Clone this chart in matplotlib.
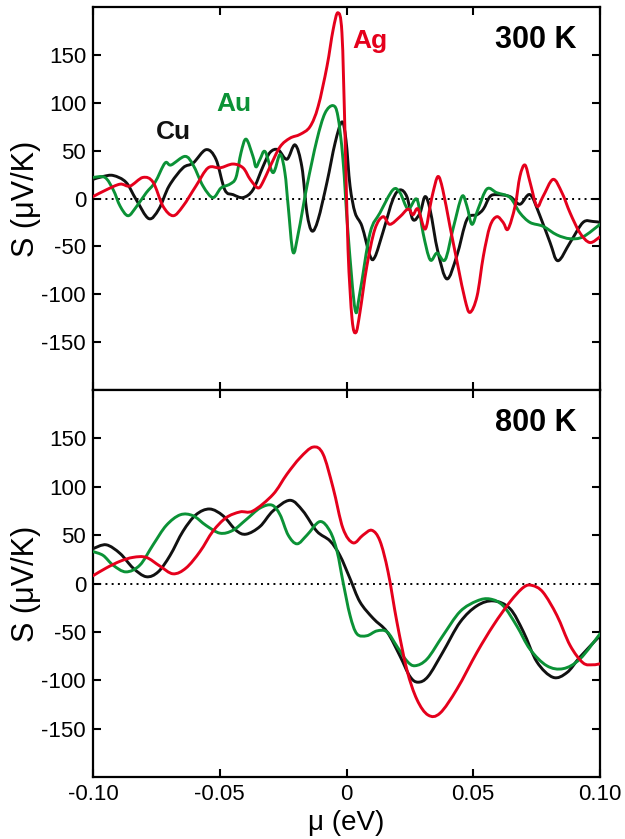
import matplotlib
matplotlib.use("Agg")
import matplotlib.pyplot as plt
from matplotlib.ticker import FixedLocator
from matplotlib.path import Path
from matplotlib.patches import PathPatch

plt.rcParams['font.family'] = ['Liberation Sans', 'DejaVu Sans']

# ---------------- data (mu in eV, S in uV/K) ----------------
cu_300 = [(-0.100, 20), (-0.096, 23), (-0.092, 24), (-0.087, 17), (-0.083, -1), (-0.078, -21),
          (-0.074, -11), (-0.070, 13), (-0.0645, 32), (-0.0605, 37), (-0.0554, 51), (-0.0515, 41),
          (-0.048, 9), (-0.0447, 4), (-0.0408, 1), (-0.0369, 9), (-0.0330, 33), (-0.0302, 48),
          (-0.0270, 51), (-0.0235, 41), (-0.0203, 56), (-0.0176, 33), (-0.0156, -15), (-0.0136, -34),
          (-0.0112, -22), (-0.0077, 17), (-0.0045, 58), (-0.0018, 80), (-0.0002, 61), (0.0014, 13),
          (0.0034, -15), (0.0061, -29), (0.0093, -60), (0.0112, -61), (0.0144, -35), (0.0183, -1),
          (0.0211, 9), (0.0238, 2), (0.0262, -22), (0.0290, -15), (0.0310, 2), (0.0330, -12),
          (0.0360, -55), (0.0396, -84), (0.0435, -60), (0.0475, -22), (0.0515, -17), (0.0540, -11),
          (0.0566, 2), (0.0593, 4), (0.0645, 2), (0.0684, -6), (0.0724, 4), (0.0763, -18),
          (0.0803, -46), (0.0834, -65), (0.0882, -46), (0.0933, -25), (0.0972, -24), (0.100, -25)]

au_300 = [(-0.100, 22), (-0.0953, 22), (-0.092, 9), (-0.0893, -8), (-0.0862, -18), (-0.083, -9),
          (-0.079, 6), (-0.0755, 17), (-0.0716, 37), (-0.0692, 35), (-0.0637, 44), (-0.0605, 35),
          (-0.0566, 13), (-0.0527, 1), (-0.0495, 11), (-0.046, 15), (-0.0436, 22), (-0.0416, 48),
          (-0.0396, 62), (-0.0369, 44), (-0.0357, 33), (-0.0341, 41), (-0.0321, 49), (-0.029, 27),
          (-0.0262, 46), (-0.0243, 27), (-0.023, -8), (-0.0211, -56), (-0.019, -36), (-0.0156, 13),
          (-0.0117, 61), (-0.0085, 89), (-0.0053, 97), (-0.0034, 86), (-0.0014, 41), (0.0006, -36),
          (0.0034, -116), (0.0053, -98), (0.0093, -36), (0.0132, -15), (0.0183, 9), (0.0211, 6),
          (0.0243, -11), (0.0278, -1), (0.0302, -36), (0.0330, -64), (0.0357, -57), (0.0389, -64),
          (0.042, -32), (0.0455, 2), (0.0475, -8), (0.0495, -27), (0.0519, -11), (0.0554, 10),
          (0.0593, 6), (0.0645, 1), (0.0684, -15), (0.0724, -25), (0.0775, -29), (0.083, -38),
          (0.0882, -42), (0.0933, -40), (0.100, -27)]

ag_300 = [(-0.100, 2), (-0.0948, 9), (-0.0893, 15), (-0.0854, 13), (-0.0803, 22), (-0.0763, 17),
          (-0.0724, -8), (-0.0684, -18), (-0.0645, -8), (-0.0594, 13), (-0.0546, 32), (-0.0499, 32),
          (-0.0448, 36), (-0.0408, 32), (-0.038, 20), (-0.0349, 11), (-0.0330, 17), (-0.0302, 33),
          (-0.0262, 54), (-0.0223, 63), (-0.0183, 67), (-0.0144, 75), (-0.0112, 96), (-0.0077, 138),
          (-0.0053, 176), (-0.0034, 194), (-0.0018, 173), (-0.0006, 69), (0.0006, -53), (0.0022, -126),
          (0.0037, -140), (0.0053, -119), (0.008, -71), (0.0112, -32), (0.0144, -19), (0.0171, -27),
          (0.0211, -19), (0.0243, -11), (0.0262, -17), (0.0282, -11), (0.031, -32), (0.033, -8),
          (0.0341, 6), (0.0361, 23), (0.038, 9), (0.0408, -29), (0.044, -71), (0.0467, -105),
          (0.0487, -119), (0.0515, -102), (0.054, -60), (0.0566, -29), (0.0593, -19), (0.0618, -25),
          (0.0637, -32), (0.0665, -8), (0.0684, 23), (0.0704, 35), (0.0724, 17), (0.0751, -8),
          (0.0775, 2), (0.0815, 20), (0.085, 6), (0.0882, -15), (0.0921, -36), (0.096, -46),
          (0.100, -40)]

cu_800 = [(-0.100, 36), (-0.0948, 40), (-0.0893, 31), (-0.0842, 16), (-0.079, 7), (-0.0743, 12),
          (-0.0696, 29), (-0.0645, 54), (-0.0594, 71), (-0.054, 77), (-0.0487, 70), (-0.0436, 55),
          (-0.0396, 51), (-0.0341, 59), (-0.029, 75), (-0.0223, 86), (-0.0172, 75), (-0.0117, 54),
          (-0.0065, 44), (-0.0026, 29), (0.0014, 5), (0.0053, -19), (0.0105, -36), (0.016, -50),
          (0.0211, -75), (0.025, -96), (0.0282, -102), (0.0322, -96), (0.038, -71), (0.0448, -40),
          (0.0515, -23), (0.058, -18), (0.0645, -26), (0.0698, -50), (0.0751, -81), (0.0815, -97),
          (0.087, -92), (0.0921, -76), (0.100, -54)]

au_800 = [(-0.100, 33), (-0.096, 29), (-0.0921, 19), (-0.087, 12), (-0.0815, 19), (-0.0763, 40),
          (-0.0711, 60), (-0.0656, 71), (-0.0605, 70), (-0.0554, 60), (-0.0499, 52), (-0.0448, 55),
          (-0.0396, 66), (-0.0341, 78), (-0.0294, 81), (-0.0262, 71), (-0.023, 50), (-0.0195, 41),
          (-0.0156, 50), (-0.0105, 64), (-0.0065, 54), (-0.0037, 33), (-0.0014, 2), (0.0014, -33),
          (0.0041, -52), (0.008, -54), (0.012, -49), (0.016, -50), (0.0199, -65), (0.0238, -80),
          (0.027, -85), (0.0318, -78), (0.038, -54), (0.0448, -29), (0.0515, -18), (0.0566, -16),
          (0.0618, -23), (0.0672, -44), (0.0724, -68), (0.079, -85), (0.0855, -88), (0.0921, -78),
          (0.100, -52)]

ag_800 = [(-0.100, 8), (-0.0948, 16), (-0.0893, 23), (-0.0842, 27), (-0.079, 27), (-0.0736, 18),
          (-0.0684, 10), (-0.0633, 16), (-0.0578, 33), (-0.0527, 54), (-0.0475, 68), (-0.042, 74),
          (-0.0369, 75), (-0.029, 92), (-0.0235, 113), (-0.0183, 130), (-0.0132, 141), (-0.0093, 134),
          (-0.0053, 99), (-0.0014, 57), (0.0026, 42), (0.0065, 50), (0.010, 55), (0.0132, 44),
          (0.0164, 12), (0.0199, -40), (0.0238, -89), (0.0278, -120), (0.0322, -136), (0.0369, -134),
          (0.0436, -109), (0.0515, -71), (0.058, -43), (0.0645, -19), (0.0698, -4), (0.0732, -2),
          (0.0775, -9), (0.083, -33), (0.0882, -64), (0.0933, -82), (0.0972, -84), (0.100, -83)]

x_ticks = [-0.10, -0.05, 0.0, 0.05, 0.10]
x_ticklabels = ["-0.10", "-0.05", "0", "0.05", "0.10"]
y_ticks = [-150, -100, -50, 0, 50, 100, 150]
temps = ["300 K", "800 K"]
metal_labels = ["Cu", "Au", "Ag"]

RED = '#e5001c'
GREEN = '#0b9236'
BLACK = '#111111'


def smooth_line(ax, data, color, lw=2.1):
    """Draw a smooth (Catmull-Rom style Bezier) curve through the data points,
    in data coordinates via ax.transData."""
    xs = [p[0] for p in data]
    ys = [p[1] for p in data]
    n = len(xs)
    verts = [(xs[0], ys[0])]
    codes = [Path.MOVETO]
    for i in range(n - 1):
        x0, y0 = (xs[i - 1], ys[i - 1]) if i > 0 else (xs[i], ys[i])
        x1, y1 = xs[i], ys[i]
        x2, y2 = xs[i + 1], ys[i + 1]
        x3, y3 = (xs[i + 2], ys[i + 2]) if i + 2 < n else (x2, y2)
        c1 = (x1 + (x2 - x0) / 6.0, y1 + (y2 - y0) / 6.0)
        c2 = (x2 - (x3 - x1) / 6.0, y2 - (y3 - y1) / 6.0)
        verts += [c1, c2, (x2, y2)]
        codes += [Path.CURVE4, Path.CURVE4, Path.CURVE4]
    patch = PathPatch(Path(verts, codes), facecolor='none', edgecolor=color, lw=lw,
                      joinstyle='round', capstyle='round', transform=ax.transData, zorder=3)
    ax.add_patch(patch)


fig = plt.figure(figsize=(6.25, 8.39), dpi=100)
L, R = 93 / 625, 600 / 625
top_ax = fig.add_axes([L, 1 - 390 / 839, R - L, (390 - 7) / 839])
bot_ax = fig.add_axes([L, 1 - 777 / 839, R - L, (777 - 390) / 839])

panels = [
    (top_ax, [(cu_300, BLACK), (au_300, GREEN), (ag_300, RED)], temps[0]),
    (bot_ax, [(cu_800, BLACK), (au_800, GREEN), (ag_800, RED)], temps[1]),
]

for ax, series, temp in panels:
    ax.axhline(0, color='black', lw=1.4, ls=(0, (1, 2.2)), zorder=1)
    for data, col in series:
        smooth_line(ax, data, col)
    ax.set_xlim(-0.10, 0.10)
    ax.set_ylim(-200, 200)
    ax.yaxis.set_major_locator(FixedLocator(y_ticks))
    ax.set_yticklabels([str(v) for v in y_ticks])
    ax.xaxis.set_major_locator(FixedLocator(x_ticks))
    ax.tick_params(direction='in', length=6, width=1.5, top=True, right=True,
                   labelsize=16, pad=5)
    for sp in ax.spines.values():
        sp.set_linewidth(1.6)
    ax.set_ylabel('S (μV/K)', fontsize=22, va='center')
    ax.yaxis.set_label_coords(-0.132, 0.5)
    ax.text(0.0909, 166, temp, fontsize=22, fontweight='bold', ha='right', va='center')

top_ax.tick_params(labelbottom=False)
bot_ax.set_xticklabels(x_ticklabels)
bot_ax.set_xlabel('μ (eV)', fontsize=20, va='center')
bot_ax.xaxis.set_label_coords(0.5, -0.12)

top_ax.text(-0.0684, 69, metal_labels[0], color=BLACK, fontsize=19, fontweight='bold', ha='center', va='center')
top_ax.text(-0.0446, 99, metal_labels[1], color=GREEN, fontsize=19, fontweight='bold', ha='center', va='center')
top_ax.text(0.0093, 164, metal_labels[2], color=RED, fontsize=19, fontweight='bold', ha='center', va='center')

fig.savefig('out.png', dpi=100)
